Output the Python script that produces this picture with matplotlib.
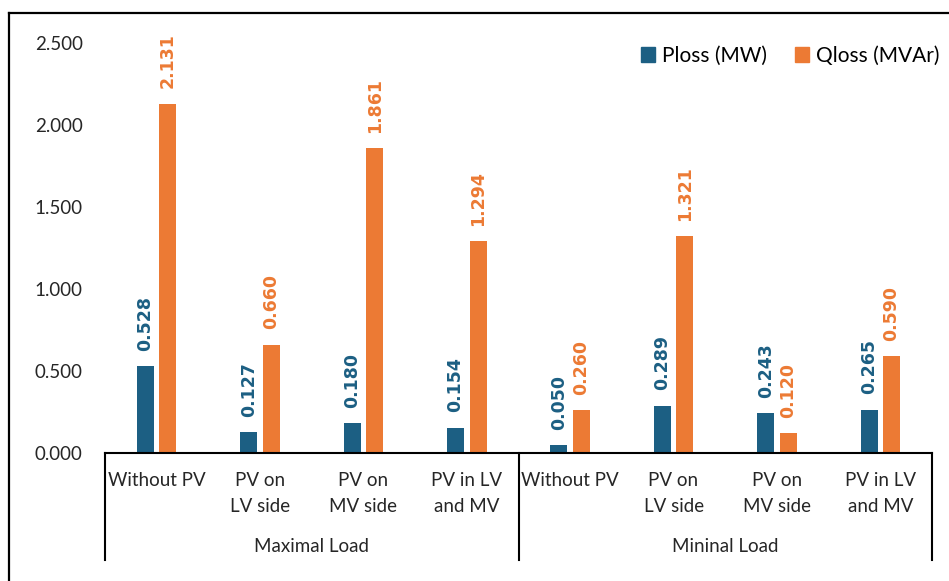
import matplotlib
matplotlib.use("Agg")
import matplotlib.pyplot as plt
from matplotlib.patches import Patch
from matplotlib.lines import Line2D
import numpy as np

# Data
categories = ["Without PV", "PV on\nLV side", "PV on\nMV side", "PV in LV\nand MV",
              "Without PV", "PV on\nLV side", "PV on\nMV side", "PV in LV\nand MV"]
groups = ["Maximal Load", "Mininal Load"]
ploss = [0.528, 0.127, 0.180, 0.154, 0.050, 0.289, 0.243, 0.265]
qloss = [2.131, 0.660, 1.861, 1.294, 0.260, 1.321, 0.120, 0.590]
series_names = ["Ploss (MW)", "Qloss (MVAr)"]
yticks = [0.0, 0.5, 1.0, 1.5, 2.0, 2.5]

BLUE = "#1C5F83"
ORANGE = "#EC7A34"
TEXT = "#262626"
FONT = "Lato"

W, H = 949, 581
fig = plt.figure(figsize=(W / 100, H / 100), dpi=100)
ax = fig.add_axes([105 / W, 128 / H, 827 / W, 410 / H])

x = np.arange(len(categories))
bw = 0.165
off = 0.109
ax.bar(x - off, ploss, width=bw, color=BLUE, zorder=2)
ax.bar(x + off, qloss, width=bw, color=ORANGE, zorder=2)

# Rotated value labels above each bar
for xi, v in zip(x - off, ploss):
    ax.annotate(f"{v:.3f}", xy=(xi, v), xytext=(0, 11), textcoords="offset points",
                rotation=90, ha="center", va="bottom", color=BLUE,
                fontsize=12.5, fontweight="bold", family="DejaVu Sans")
for xi, v in zip(x + off, qloss):
    ax.annotate(f"{v:.3f}", xy=(xi, v), xytext=(0, 11), textcoords="offset points",
                rotation=90, ha="center", va="bottom", color=ORANGE,
                fontsize=12.5, fontweight="bold", family="DejaVu Sans")

ax.set_xlim(-0.5, len(categories) - 0.5)
ax.set_ylim(0, 2.5)
ax.set_yticks(yticks)
ax.set_yticklabels([f"{t:.3f}" for t in yticks], fontsize=13.5, color=TEXT, family=FONT)
ax.tick_params(axis="y", length=0, pad=16)
ax.set_xticks([])
for s in ("top", "right", "left"):
    ax.spines[s].set_visible(False)
ax.spines["bottom"].set_linewidth(1.5)
ax.spines["bottom"].set_color("black")

# Category labels (two-level axis)
trans = ax.get_xaxis_transform()
px = 1 / 410  # one pixel in axes fraction
for xi, lab in zip(x, categories):
    for k, line in enumerate(lab.split("\n")):
        ax.text(xi, -(27 + 26 * k) * px, line, transform=trans, ha="center", va="center",
                fontsize=13.5, color=TEXT, family=FONT)
for gi, g in enumerate(groups):
    ax.text(1.5 + 4 * gi, -94 * px, g, transform=trans, ha="center", va="center",
            fontsize=13.5, color=TEXT, family=FONT)
for xb in (-0.5, 3.5, 7.5):
    ax.add_line(Line2D([xb, xb], [0, -107 * px], transform=trans, color="black",
                       lw=1.5, clip_on=False))

# Legend
handles = [Patch(color=BLUE), Patch(color=ORANGE)]
fig.legend(handles, series_names, loc="center right", bbox_to_anchor=(939 / W, 1 - 56 / H),
           ncol=2, frameon=False, handlelength=0.7, handleheight=0.7,
           handletextpad=0.3, columnspacing=1.35, borderaxespad=0, borderpad=0,
           prop={"family": FONT, "size": 15})

# Chart frame
fig.add_artist(Line2D([9 / W, 9 / W], [0, 1 - 13 / H], transform=fig.transFigure,
                      color="black", lw=1.6))
fig.add_artist(Line2D([9 / W, 1], [1 - 13 / H, 1 - 13 / H], transform=fig.transFigure,
                      color="black", lw=1.6))

fig.savefig("out.png", dpi=100)
